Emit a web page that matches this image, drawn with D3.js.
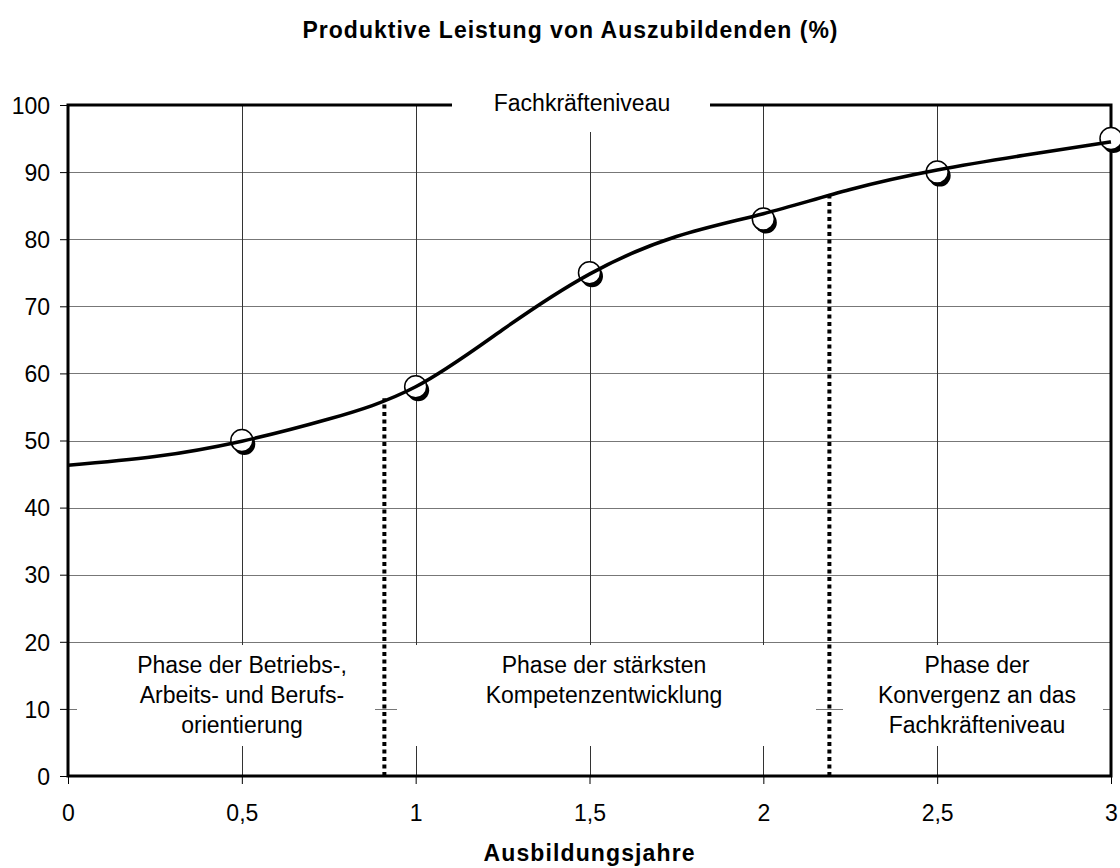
<!DOCTYPE html>
<html>
<head>
<meta charset="utf-8">
<script src="https://cdn.jsdelivr.net/npm/d3@7"></script>
<style>
  body { margin: 0; background: #fff; }
  text { font-family: Arial, "Liberation Sans", sans-serif; fill: #000; }
</style>
</head>
<body>
<div id="chart"></div>
<script>
// Smooth trend curve
const curveYears = [0, 0.25, 0.5, 0.75, 1, 1.25, 1.5, 1.75, 2, 2.25, 2.5, 2.75, 3];
const curveValues = [46.3, 47.6, 49.9, 53.2, 58.0, 66.5, 74.8, 80.4, 83.8, 87.4, 90.3, 92.5, 94.5];

// Observed points
const pointYears = [0.5, 1, 1.5, 2, 2.5, 3];
const pointValues = [50, 58, 75, 83, 90, 95];

// Phase boundaries (dotted lines) and where they meet the curve
const boundaryYears = [0.91, 2.19];
const boundaryTops = [56.3, 86.5];

const xTicks = [0, 0.5, 1, 1.5, 2, 2.5, 3];
const yTicks = [0, 10, 20, 30, 40, 50, 60, 70, 80, 90, 100];

const phaseLabels = [
  ["Phase der Betriebs-,", "Arbeits- und Berufs-", "orientierung"],
  ["Phase der stärksten", "Kompetenzentwicklung"],
  ["Phase der", "Konvergenz an das", "Fachkräfteniveau"]
];

const title = "Produktive Leistung von Auszubildenden (%)";
const xTitle = "Ausbildungsjahre";
const levelLabel = "Fachkräfteniveau";

const width = 1120, height = 868;
const margin = { top: 105, right: 9, bottom: 92, left: 68 };

const svg = d3.select("#chart").append("svg")
  .attr("width", width)
  .attr("height", height);

const x = d3.scaleLinear().domain([0, 3]).range([margin.left, width - margin.right]);
const y = d3.scaleLinear().domain([0, 100]).range([height - margin.bottom, margin.top]);

const fmt = d => String(d).replace(".", ",");

// gridlines
svg.append("g")
  .selectAll("line")
  .data(yTicks.slice(1, -1))
  .join("line")
  .attr("x1", x(0)).attr("x2", x(3))
  .attr("y1", d => Math.round(y(d)) + 0.5).attr("y2", d => Math.round(y(d)) + 0.5)
  .attr("stroke", "#777").attr("stroke-width", 1);

svg.append("g")
  .selectAll("line")
  .data(xTicks.slice(1, -1))
  .join("line")
  .attr("x1", d => Math.round(x(d)) + 0.5).attr("x2", d => Math.round(x(d)) + 0.5)
  .attr("y1", y(0)).attr("y2", y(100))
  .attr("stroke", "#333").attr("stroke-width", 1);

// axes
const yAxis = svg.append("g")
  .attr("transform", `translate(${x(0)},0)`)
  .call(d3.axisLeft(y).tickValues(yTicks).tickSize(8).tickPadding(10).tickFormat(fmt));
yAxis.select(".domain").remove();
yAxis.selectAll(".tick line").attr("stroke", "#000");
yAxis.selectAll(".tick text").style("font-size", "23px").attr("dy", "0.36em");

const xAxis = svg.append("g")
  .attr("transform", `translate(0,${y(0)})`)
  .call(d3.axisBottom(x).tickValues(xTicks).tickSize(8).tickPadding(21).tickFormat(fmt));
xAxis.select(".domain").remove();
xAxis.selectAll(".tick line").attr("stroke", "#000");
xAxis.selectAll(".tick text").style("font-size", "23px");

// white label boxes hiding the grid
const boxes = [
  [77, 375], [397, 816], [843, 1103]
];
svg.append("g")
  .selectAll("rect")
  .data(boxes)
  .join("rect")
  .attr("x", d => d[0]).attr("width", d => d[1] - d[0])
  .attr("y", 645).attr("height", 101)
  .attr("fill", "#fff");

svg.append("rect")
  .attr("x", 452).attr("width", 258)
  .attr("y", 88).attr("height", 44)
  .attr("fill", "#fff");

// frame
svg.append("path")
  .attr("d", `M${452},${y(100)} H${x(0)} V${y(0)} H${x(3)} V${y(100)} H${710}`)
  .attr("stroke", "#000").attr("stroke-width", 3).attr("fill", "none")
  .attr("stroke-linejoin", "miter");

// dotted phase boundaries
svg.append("g")
  .selectAll("line")
  .data(boundaryYears)
  .join("line")
  .attr("x1", d => x(d)).attr("x2", d => x(d))
  .attr("y1", y(0)).attr("y2", (d, i) => y(boundaryTops[i]))
  .attr("stroke", "#000").attr("stroke-width", 4)
  .attr("stroke-dasharray", "4,3.5");

// markers
const pts = pointYears.map((d, i) => ({ x: d, v: pointValues[i] }));
svg.append("g")
  .selectAll("circle")
  .data(pts)
  .join("circle")
  .attr("cx", d => x(d.x) + 2.5).attr("cy", d => y(d.v) + 3.5)
  .attr("r", 11).attr("fill", "#000");
svg.append("g")
  .selectAll("circle")
  .data(pts)
  .join("circle")
  .attr("cx", d => x(d.x)).attr("cy", d => y(d.v))
  .attr("r", 11).attr("fill", "#fff")
  .attr("stroke", "#000").attr("stroke-width", 1.5);

// curve
const line = d3.line()
  .x(d => x(d[0]))
  .y(d => y(d[1]))
  .curve(d3.curveNatural);
svg.append("path")
  .datum(curveYears.map((d, i) => [d, curveValues[i]]))
  .attr("d", line)
  .attr("fill", "none")
  .attr("stroke", "#000")
  .attr("stroke-width", 3.5);

// phase labels
const phaseCenters = [242, 604, 977];
phaseLabels.forEach((lines, i) => {
  const t = svg.append("text")
    .attr("text-anchor", "middle")
    .style("font-size", "23px");
  lines.forEach((s, j) => {
    t.append("tspan")
      .attr("x", phaseCenters[i])
      .attr("y", 673 + j * 30)
      .text(s);
  });
});

svg.append("text")
  .attr("x", 582).attr("y", 111)
  .attr("text-anchor", "middle")
  .style("font-size", "23px")
  .text(levelLabel);

// titles
svg.append("text")
  .attr("x", 570).attr("y", 38)
  .attr("text-anchor", "middle")
  .style("font-size", "23px").style("font-weight", "bold")
  .attr("textLength", 535).attr("lengthAdjust", "spacing")
  .text(title);

svg.append("text")
  .attr("x", 589).attr("y", 861)
  .attr("text-anchor", "middle")
  .style("font-size", "23px").style("font-weight", "bold")
  .attr("textLength", 211).attr("lengthAdjust", "spacing")
  .text(xTitle);
</script>
</body>
</html>
